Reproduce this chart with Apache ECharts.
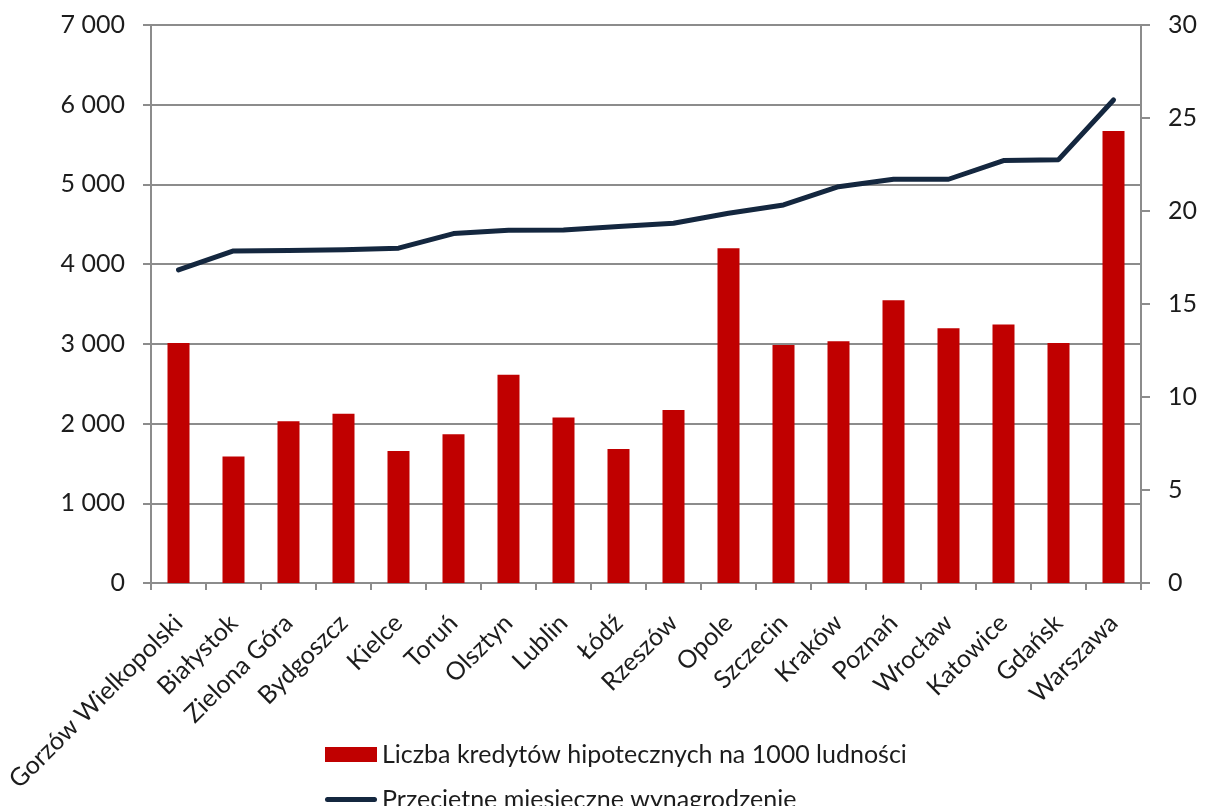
<!DOCTYPE html>
<html>
<head>
<meta charset="utf-8">
<script src="https://cdn.jsdelivr.net/npm/echarts@6/dist/echarts.min.js"></script>
<style>
  html, body { margin: 0; padding: 0; background: #fff; }
  #chart { width: 1209px; height: 806px; }
</style>
</head>
<body>
<div id="chart"></div>
<script>
// Cities, ordered by average monthly salary
const cities = [
  'Gorzów Wielkopolski', 'Białystok', 'Zielona Góra', 'Bydgoszcz', 'Kielce', 'Toruń',
  'Olsztyn', 'Lublin', 'Łódź', 'Rzeszów', 'Opole', 'Szczecin', 'Kraków', 'Poznań',
  'Wrocław', 'Katowice', 'Gdańsk', 'Warszawa'
];

// Mortgage loans per 1000 inhabitants (right axis)
const loansPer1000 = [
  12.9, 6.8, 8.7, 9.1, 7.1, 8.0, 11.2, 8.9, 7.2, 9.3, 18.0, 12.8, 13.0, 15.2, 13.7, 13.9, 12.9, 24.3
];

// Average monthly salary in PLN (left axis)
const avgSalary = [
  3927, 4166, 4170, 4182, 4200, 4383, 4425, 4429, 4471, 4513, 4639, 4743, 4972, 5065, 5065, 5299, 5311, 6060
];

// Axis tick values
const salaryTicks = { min: 0, max: 7000, step: 1000 };
const loanTicks = { min: 0, max: 30, step: 5 };

const loansName = 'Liczba kredytów hipotecznych na 1000 ludności';
const salaryName = 'Przeciętne miesięczne wynagrodzenie';

const FONT = 'Lato';
const FS = 25;
const TEXT = '#1c1c1c';
const GRID = '#8c8c8c';

function spaced(v) {
  return String(v).replace(/\B(?=(\d{3})+(?!\d))/g, ' ');
}

const legendBase = {
  orient: 'vertical',
  left: 320,
  itemWidth: 52,
  itemHeight: 15,
  align: 'left',
  textStyle: { fontFamily: FONT, fontSize: FS, color: TEXT }
};

const chart = echarts.init(document.getElementById('chart'), null, { renderer: 'canvas' });

chart.setOption({
  animation: false,
  backgroundColor: '#ffffff',
  textStyle: { fontFamily: FONT },
  grid: { left: 151, right: 68, top: 25, bottom: 223, containLabel: false },
  legend: [
    Object.assign({}, legendBase, {
      top: 737,
      data: [{ name: loansName, icon: 'rect' }]
    }),
    Object.assign({}, legendBase, {
      top: 782,
      data: [{ name: salaryName, icon: 'path://M2.5,0 L49.5,0 A2.5,2.5 0 0 1 49.5,5 L2.5,5 A2.5,2.5 0 0 1 2.5,0 Z' }]
    })
  ],
  xAxis: {
    type: 'category',
    data: cities,
    boundaryGap: true,
    axisLine: { show: true, lineStyle: { color: GRID, width: 2 } },
    axisTick: { show: true, interval: 0, length: 7, lineStyle: { color: GRID, width: 2 } },
    axisLabel: {
      interval: 0,
      rotate: 45,
      margin: 36,
      align: 'right',
      verticalAlign: 'middle',
      fontFamily: FONT,
      fontSize: FS,
      color: TEXT
    }
  },
  yAxis: [
    {
      type: 'value',
      min: salaryTicks.min,
      max: salaryTicks.max,
      interval: salaryTicks.step,
      position: 'left',
      axisLine: { show: true, lineStyle: { color: GRID, width: 2 } },
      axisTick: { show: true, length: 8, lineStyle: { color: GRID, width: 2 } },
      splitLine: { show: true, lineStyle: { color: GRID, width: 2 } },
      axisLabel: { margin: 26, fontFamily: FONT, fontSize: FS, color: TEXT, formatter: spaced }
    },
    {
      type: 'value',
      min: loanTicks.min,
      max: loanTicks.max,
      interval: loanTicks.step,
      position: 'right',
      axisLine: { show: true, lineStyle: { color: GRID, width: 2 } },
      axisTick: { show: true, length: 9, lineStyle: { color: GRID, width: 2 } },
      splitLine: { show: false },
      axisLabel: { margin: 27, fontFamily: FONT, fontSize: FS, color: TEXT }
    }
  ],
  series: [
    {
      name: loansName,
      type: 'bar',
      yAxisIndex: 1,
      data: loansPer1000,
      barWidth: '40%',
      itemStyle: { color: '#c00000' },
      z: 2
    },
    {
      name: salaryName,
      type: 'line',
      yAxisIndex: 0,
      data: avgSalary,
      symbol: 'none',
      lineStyle: { color: '#14273f', width: 5, cap: 'round', join: 'round' },
      itemStyle: { color: '#14273f' },
      z: 3
    }
  ]
});
</script>
</body>
</html>
